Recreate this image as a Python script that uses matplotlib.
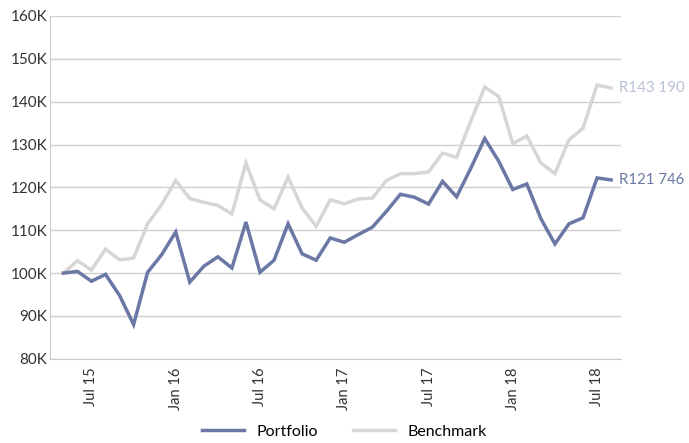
import matplotlib
matplotlib.use("Agg")
from matplotlib import pyplot as plt
from matplotlib.ticker import FuncFormatter

plt.rcParams['font.family'] = ['Lato', 'DejaVu Sans']

# monthly values, May 2015 .. Aug 2018 (in thousands)
portfolio = [100.0, 100.4, 98.1, 99.7, 94.8, 88.0, 100.2, 104.3, 109.6, 97.9,
             101.6, 103.8, 101.2, 111.9, 100.2, 103.0, 111.5, 104.5, 103.0, 108.2,
             107.2, 109.0, 110.7, 114.4, 118.4, 117.7, 116.1, 121.4, 117.8, 124.4,
             131.4, 126.1, 119.5, 120.8, 112.7, 106.8, 111.5, 112.9, 122.2, 121.746]
benchmark = [100.0, 102.9, 100.7, 105.6, 103.1, 103.5, 111.5, 116.0, 121.6, 117.4,
             116.5, 115.8, 113.8, 125.7, 117.1, 115.0, 122.4, 115.2, 110.9, 117.1,
             116.2, 117.3, 117.5, 121.6, 123.2, 123.2, 123.6, 128.0, 127.0, 135.4,
             143.4, 141.2, 130.2, 132.0, 125.7, 123.2, 131.1, 133.8, 143.9, 143.19]
tick_pos = [2, 8, 14, 20, 26, 32, 38]
tick_labels = ['Jul 15', 'Jan 16', 'Jul 16', 'Jan 17', 'Jul 17', 'Jan 18', 'Jul 18']
end_labels = ['R121 746', 'R143 190']

c_port = '#6b78a6'
c_bench = '#d8d6d4'

fig = plt.figure(figsize=(6.89, 4.43), dpi=100)
ax = fig.add_axes([0.0726, 0.19, 0.828, 0.774])

x = list(range(len(portfolio)))
ax.plot(x, benchmark, color=c_bench, lw=2.5, label='Benchmark', solid_joinstyle='miter')
ax.plot(x, portfolio, color=c_port, lw=2.5, label='Portfolio', solid_joinstyle='miter')

ax.set_xlim(-0.95, 39.67)
ax.set_ylim(80, 160)
ax.set_yticks(range(80, 161, 10))
ax.yaxis.set_major_formatter(FuncFormatter(lambda v, p: '%dK' % v))
ax.set_xticks(tick_pos)
ax.set_xticklabels(tick_labels, rotation=90)
ax.tick_params(axis='both', length=0, colors='#333333')
ax.tick_params(axis='y', labelsize=11, pad=2)
ax.tick_params(axis='x', labelsize=10.5, pad=6)

ax.grid(axis='y', color='#d0d0d0', lw=1)
ax.set_axisbelow(True)
for s in ['top', 'right']:
    ax.spines[s].set_visible(False)
for s in ['left', 'bottom']:
    ax.spines[s].set_color('#cccccc')

ax.text(39.55, portfolio[-1], end_labels[0], color=c_port, fontsize=10.8,
        va='center', ha='left', clip_on=False)
ax.text(39.55, benchmark[-1], end_labels[1], color='#b9c1d5', fontsize=10.8,
        va='center', ha='left', clip_on=False)

h, l = ax.get_legend_handles_labels()
fig.legend(h[::-1], l[::-1], loc='center', bbox_to_anchor=(0.5, 0.025), ncol=2,
           frameon=False, fontsize=11.5, handlelength=2.6, columnspacing=2.2)

fig.savefig('out.png', dpi=100)
